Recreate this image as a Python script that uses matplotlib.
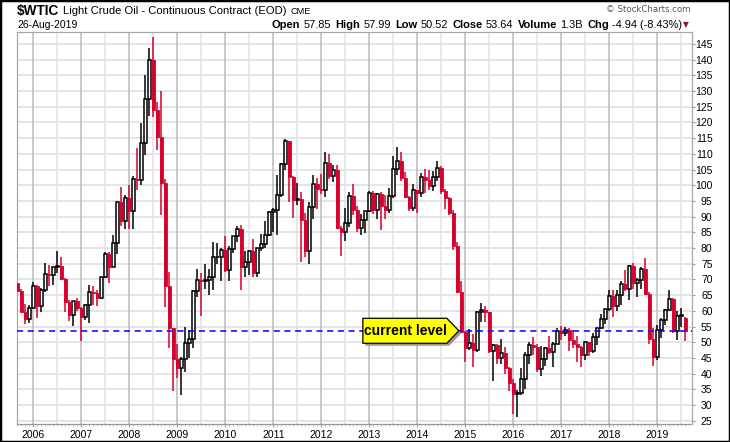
import numpy as np
import pandas as pd
import matplotlib
matplotlib.use("Agg")
import matplotlib.pyplot as plt
from matplotlib.patches import Polygon, Rectangle
from matplotlib.transforms import IdentityTransform

plt.rcParams["font.family"] = ["Liberation Sans", "DejaVu Sans"]

# monthly candles, Sep 2005 .. Aug 2019
opens = [
    68.94, 66.24, 59.76, 57.32,
    61.04, 67.92, 61.41, 66.63, 71.88, 71.29, 73.93, 74.40, 70.26, 62.91, 58.73, 62.97,
    61.05, 58.14, 61.79, 65.87, 65.71, 64.01, 70.68, 78.21, 74.04, 81.66, 94.53, 88.71,
    95.98, 91.75, 101.84, 101.58, 113.46, 127.35, 140.00, 124.08, 115.46, 100.64, 67.81, 54.43,
    44.60, 41.68, 44.76, 49.66, 51.12, 66.31, 69.89, 69.45, 69.96, 70.61, 77.00, 77.28,
    79.36, 72.89, 79.66, 83.76, 86.15, 73.97, 75.63, 78.95, 71.92, 79.97, 81.43, 84.11,
    91.38, 92.19, 96.97, 106.72, 113.93, 102.70, 95.42, 95.70, 88.81, 79.20, 93.19, 100.36,
    98.83, 98.48, 107.07, 103.02, 104.87, 86.53, 84.96, 88.06, 96.47, 92.19, 86.24, 88.91,
    91.82, 97.49, 92.05, 97.23, 93.46, 91.97, 96.56, 105.03, 107.65, 102.33, 96.38, 92.72,
    98.42, 97.49, 102.59, 101.58, 99.74, 102.71, 105.37, 98.17, 95.96, 91.16, 80.54, 66.15,
    53.27, 48.24, 49.76, 47.60, 59.63, 60.30, 59.47, 47.12, 49.20, 45.09, 46.59, 41.65,
    37.04, 33.62, 33.75, 38.34, 45.92, 49.10, 48.33, 41.60, 44.70, 48.24, 46.86, 49.44,
    53.72, 52.81, 54.01, 50.60, 49.33, 48.32, 46.04, 50.17, 47.23, 51.67, 54.38, 57.40,
    60.42, 64.73, 61.64, 64.94, 68.57, 67.04, 74.15, 68.76, 69.80, 73.25, 65.31, 50.93,
    45.41, 53.79, 57.22, 60.14, 63.91, 53.50, 58.47, 57.85,
]
highs = [
    70.85, 67.00, 62.20, 61.90,
    69.20, 68.30, 67.40, 75.35, 74.60, 74.00, 79.00, 77.00, 70.50, 63.50, 62.90, 64.20,
    61.10, 62.30, 68.10, 67.90, 66.70, 70.70, 78.80, 78.80, 84.10, 94.70, 99.30, 97.00,
    100.10, 103.00, 111.80, 119.90, 135.10, 143.70, 147.27, 126.50, 130.00, 102.10, 72.30, 54.50,
    49.50, 45.20, 54.70, 54.00, 66.70, 73.40, 72.00, 75.00, 73.40, 82.00, 81.50, 79.90,
    83.95, 80.50, 83.80, 87.10, 87.20, 78.90, 79.40, 82.90, 80.00, 84.60, 88.60, 91.90,
    92.60, 103.40, 106.95, 114.80, 114.00, 103.00, 100.60, 98.00, 91.00, 94.70, 103.40, 102.40,
    103.70, 110.55, 110.00, 106.40, 106.50, 86.90, 92.90, 97.70, 100.40, 93.40, 90.70, 91.90,
    98.20, 98.20, 97.60, 97.80, 97.00, 99.10, 109.30, 112.20, 110.70, 104.10, 96.50, 100.30,
    98.60, 104.00, 105.20, 104.99, 104.50, 107.70, 106.00, 98.90, 96.20, 92.20, 81.80, 69.50,
    53.60, 54.20, 52.50, 59.90, 62.60, 61.60, 59.60, 49.30, 49.40, 50.90, 48.40, 42.00,
    38.40, 34.80, 41.90, 46.80, 50.20, 51.70, 49.50, 48.75, 48.60, 51.90, 50.00, 54.50,
    55.20, 54.90, 54.60, 53.80, 52.00, 48.90, 50.40, 50.20, 52.90, 54.40, 59.05, 60.50,
    66.70, 66.70, 66.60, 69.60, 72.90, 74.45, 75.30, 70.40, 73.90, 76.90, 65.90, 54.60,
    55.40, 57.80, 60.70, 66.60, 64.00, 60.00, 60.90, 57.99,
]
lows = [
    62.30, 59.60, 55.80, 56.00,
    60.80, 57.60, 59.50, 65.90, 68.00, 68.30, 72.20, 69.80, 59.50, 56.60, 55.10, 60.00,
    50.30, 57.20, 56.00, 61.90, 61.40, 63.90, 70.40, 69.00, 73.90, 78.00, 87.00, 85.90,
    86.10, 86.10, 98.60, 100.10, 109.70, 122.00, 121.60, 111.30, 90.50, 61.30, 48.30, 34.50,
    38.50, 33.20, 40.60, 45.00, 48.20, 64.50, 58.30, 66.90, 65.10, 66.50, 75.00, 69.50,
    72.40, 69.50, 78.50, 82.00, 66.50, 70.80, 71.40, 70.80, 70.80, 79.00, 80.10, 83.90,
    85.10, 84.10, 96.40, 105.00, 94.60, 89.60, 93.70, 75.70, 77.10, 74.95, 89.20, 92.50,
    97.20, 96.20, 102.10, 101.00, 86.10, 77.30, 82.20, 86.70, 90.50, 85.00, 84.10, 84.70,
    91.50, 90.80, 89.30, 85.60, 89.20, 91.10, 96.00, 103.20, 101.20, 95.90, 91.80, 91.90,
    91.20, 96.30, 97.40, 98.60, 98.20, 101.40, 97.30, 92.50, 90.40, 79.40, 65.70, 52.80,
    43.60, 47.40, 42.00, 47.00, 56.50, 56.50, 46.70, 37.75, 43.20, 43.00, 39.90, 34.50,
    27.00, 26.05, 33.10, 35.20, 43.00, 45.80, 40.60, 39.20, 42.50, 46.20, 42.20, 49.40,
    50.70, 51.90, 47.10, 48.20, 43.80, 42.05, 44.40, 45.60, 46.50, 49.10, 54.20, 55.80,
    59.80, 58.10, 59.95, 62.00, 66.30, 63.60, 67.00, 64.40, 67.10, 64.90, 49.40, 42.40,
    44.35, 51.20, 55.40, 60.10, 53.00, 50.60, 54.70, 50.52,
]
closes = [
    66.24, 59.76, 57.32, 61.04,
    67.92, 61.41, 66.63, 71.88, 71.29, 73.93, 74.40, 70.26, 62.91, 58.73, 62.97, 61.05,
    58.14, 61.79, 65.87, 65.71, 64.01, 70.68, 78.21, 74.04, 81.66, 94.53, 88.71, 95.98,
    91.75, 101.84, 101.58, 113.46, 127.35, 140.00, 124.08, 115.46, 100.64, 67.81, 54.43, 44.60,
    41.68, 44.76, 49.66, 51.12, 66.31, 69.89, 69.45, 69.96, 70.61, 77.00, 77.28, 79.36,
    72.89, 79.66, 83.76, 86.15, 73.97, 75.63, 78.95, 71.92, 79.97, 81.43, 84.11, 91.38,
    92.19, 96.97, 106.72, 113.93, 102.70, 95.42, 95.70, 88.81, 79.20, 93.19, 100.36, 98.83,
    98.48, 107.07, 103.02, 104.87, 86.53, 84.96, 88.06, 96.47, 92.19, 86.24, 88.91, 91.82,
    97.49, 92.05, 97.23, 93.46, 91.97, 96.56, 105.03, 107.65, 102.33, 96.38, 92.72, 98.42,
    97.49, 102.59, 101.58, 99.74, 102.71, 105.37, 98.17, 95.96, 91.16, 80.54, 66.15, 53.27,
    48.24, 49.76, 47.60, 59.63, 60.30, 59.47, 47.12, 49.20, 45.09, 46.59, 41.65, 37.04,
    33.62, 33.75, 38.34, 45.92, 49.10, 48.33, 41.60, 44.70, 48.24, 46.86, 49.44, 53.72,
    52.81, 54.01, 50.60, 49.33, 48.32, 46.04, 50.17, 47.23, 51.67, 54.38, 57.40, 60.42,
    64.73, 61.64, 64.94, 68.57, 67.04, 74.15, 68.76, 69.80, 73.25, 65.31, 50.93, 45.41,
    53.79, 57.22, 60.14, 63.91, 53.50, 58.47, 58.58, 53.64,
]
volume_txt = "1.3B"
last_date = "26-Aug-2019"
years = list(range(2006, 2020))
ytick_vals = list(range(25, 150, 5))

months = pd.date_range("2005-09-01", periods=len(closes), freq="MS")

W, H = 730, 442
RED = "#D6002F"
GRID = "#dcdcdc"

o = np.array(opens)
h = np.array(highs)
l = np.array(lows)
c = np.array(closes)
x = np.arange(len(c))
up = c >= o

fig = plt.figure(figsize=(W / 100, H / 100), dpi=100)
ax = fig.add_axes([17 / W, 18 / H, 675 / W, 392 / H])

# gridlines
jan_idx = [i for i, d in enumerate(months) if d.month == 1]
jul_idx = [i for i, d in enumerate(months) if d.month == 7]
for v in ytick_vals:
    ax.axhline(v, color=GRID, lw=1.1, zorder=0)
for i in jul_idx:
    ax.axvline(i, color="#e2e2e2", lw=1.1, zorder=0)
for i in jan_idx:
    ax.axvline(i, color="#c0c0c0", lw=1.2, zorder=0)

# wicks
ax.vlines(x[up], l[up], h[up], color="black", lw=1.1, zorder=2)
ax.vlines(x[~up], l[~up], h[~up], color=RED, lw=1.1, zorder=2)
# bodies
bw = 0.74
ax.bar(x[up], np.maximum(c[up] - o[up], 0.15), bottom=o[up], width=bw,
       facecolor="white", edgecolor="black", lw=1.1, zorder=3)
ax.bar(x[~up], np.maximum(o[~up] - c[~up], 0.15), bottom=c[~up], width=bw,
       facecolor=RED, edgecolor=RED, lw=0.6, zorder=3)

current = closes[-1]
ax.axhline(current, color="#0000ff", lw=1.1, ls=(0, (4, 3)), zorder=4)

ax.set_xlim(-0.08, 168.7)
ax.set_ylim(23.95, 148.8)

ax.yaxis.tick_right()
ax.set_yticks(ytick_vals)
ax.set_yticklabels([str(v) for v in ytick_vals], fontsize=7.5)
ax.tick_params(axis="y", length=2, width=0.8, color="#999999", pad=12.8)
for t in ax.get_yticklabels():
    t.set_horizontalalignment("right")

ax.set_xticks(jan_idx)
ax.set_xticklabels([str(y) for y in years], fontsize=7.5)
ax.set_xticks(x, minor=True)
ax.tick_params(axis="x", which="major", length=2, color="#999999", pad=2.3)
ax.tick_params(axis="x", which="minor", length=1.2, color="#bbbbbb")

for s in ["top", "left", "right"]:
    ax.spines[s].set_color("#a8a8a8")
    ax.spines[s].set_linewidth(0.9)
ax.spines["bottom"].set_color("#999999")
ax.spines["bottom"].set_linestyle((0, (1, 1)))
ax.spines["bottom"].set_linewidth(0.9)

# "current level" callout
fig.canvas.draw()
tx, ty = ax.transData.transform((110.4, current))
def callout(dx, dy, fc, ec, z):
    pts = [(tx - 96 + dx, ty + 12.5 + dy), (tx - 12 + dx, ty + 12.5 + dy), (tx + dx, ty + dy),
           (tx - 12 + dx, ty - 12.5 + dy), (tx - 96 + dx, ty - 12.5 + dy)]
    fig.patches.append(Polygon(pts, closed=True, facecolor=fc, edgecolor=ec, lw=0.9,
                               transform=IdentityTransform(), zorder=z, figure=fig))
callout(2.5, -2.5, "#9a9a9a", "none", 5)
callout(0, 0, "#ffff00", "black", 6)
fig.text((tx - 53) / W, ty / H, "current level", fontsize=10, fontweight="bold",
         ha="center", va="center", zorder=7)

# header
r = fig.canvas.get_renderer()
def run(x0, y0, pieces, align="left"):
    ts = []
    xx = 0.0
    for s, bold, size, gap in pieces:
        t = fig.text(0, 1 - y0 / H, s, fontsize=size, fontweight="bold" if bold else "normal",
                     va="center", ha="left")
        w = t.get_window_extent(r).width
        ts.append((t, xx))
        xx += w + gap
    start = x0 if align == "left" else x0 - xx
    for t, off in ts:
        t.set_x((start + off) / W)
    return start + xx

run(17, 11, [("$WTIC", True, 9.8, 3.5),
             ("Light Crude Oil - Continuous Contract (EOD)", False, 8.1, 4),
             ("CME", False, 6.6, 0)])
fig.text(17 / W, 1 - 24.5 / H, last_date, fontsize=7.5, va="center")

chg = closes[-1] - closes[-2]
pct = chg / closes[-2] * 100
run(682, 24.5, [("Open", True, 8.0, 3), (f"{opens[-1]:.2f}", False, 7.9, 4.5),
                ("High", True, 8.0, 3), (f"{highs[-1]:.2f}", False, 7.9, 4.5),
                ("Low", True, 8.0, 3), (f"{lows[-1]:.2f}", False, 7.9, 4.5),
                ("Close", True, 8.0, 3), (f"{closes[-1]:.2f}", False, 7.9, 4.5),
                ("Volume", True, 8.0, 3), (volume_txt, False, 7.9, 4.5),
                ("Chg", True, 8.0, 3), (f"{chg:.2f} ({pct:.2f}%)", False, 7.9, 0)],
    align="right")
fig.text(686 / W, 1 - 24.5 / H, "\u25bc", fontsize=5.5, color="#8b1538",
         ha="center", va="center", family="DejaVu Sans")
fig.text(690 / W, 1 - 9.5 / H, "\u00a9 StockCharts.com", fontsize=6.2, color="#555555",
         ha="right", va="center", family="DejaVu Sans")

fig.patches.append(Rectangle((0, 0), 1, 1, transform=fig.transFigure, fill=False,
                             edgecolor="black", lw=2.5, figure=fig))

fig.savefig("out.png", dpi=100)
